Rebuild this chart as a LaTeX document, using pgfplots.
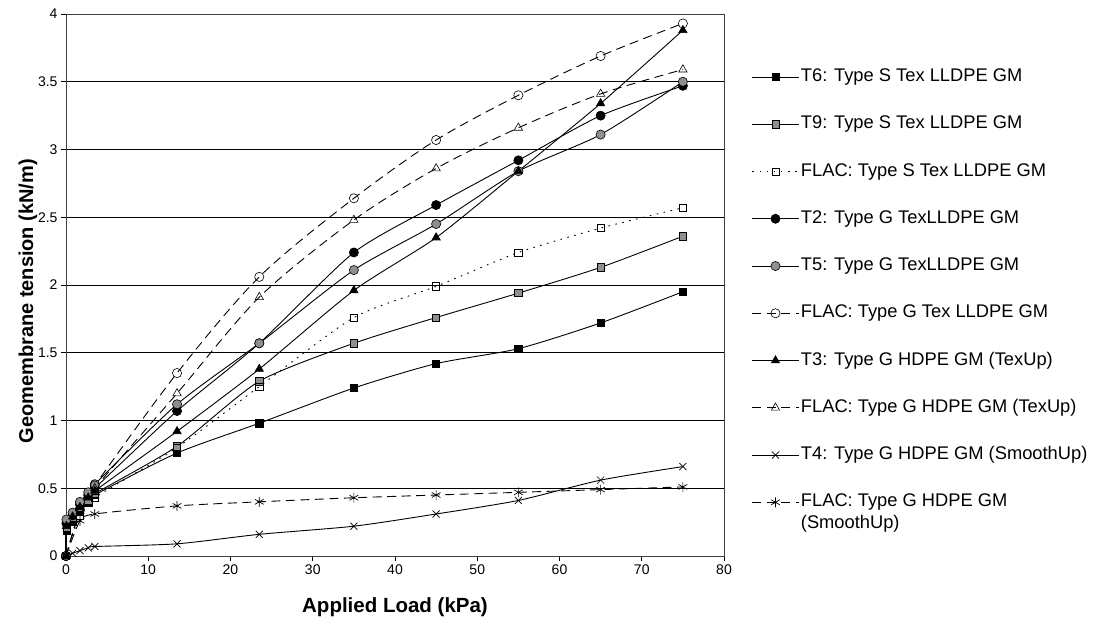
\documentclass[border=0pt]{standalone}
\usepackage{pgfplots}
\pgfplotsset{compat=1.18}
\usepackage{fontspec}
\setmainfont{Liberation Sans}
\definecolor{mgray}{gray}{0.56}

\begin{document}
\begin{tikzpicture}[x=1pt,y=1pt]
\useasboundingbox (-66,-66) rectangle (1028,556);
\begin{axis}[
  at={(0,0)}, anchor=south west,
  scale only axis, width=658pt, height=542pt,
  xmin=0, xmax=80, ymin=0, ymax=4,
  xtick={0,10,20,30,40,50,60,70,80},
  ytick={0,0.5,1,1.5,2,2.5,3,3.5,4},
  xtick pos=bottom, ytick pos=left, tick align=outside,
  major tick length=5pt,
  tick style={black, line width=0.8pt},
  axis line style={black!75, line width=0.9pt},
  ymajorgrids, grid style={black, line width=0.9pt},
  tick label style={font=\fontsize{14}{16}\selectfont},
  /pgf/number format/assume math mode=true,
  clip=false,
  xlabel={Applied Load (kPa)},
  ylabel={Geomembrane tension (kN/m)},
  every axis x label/.style={at={(axis description cs:0.5,-0.094)}, anchor=center, font=\fontsize{20.5}{23}\selectfont\bfseries},
  every axis y label/.style={at={(axis description cs:-0.058,0.47)}, anchor=center, rotate=90, font=\fontsize{20}{23}\selectfont\bfseries},
  legend style={draw=none, fill=none, inner sep=0pt, outer sep=0pt,
    at={(axis description cs:1.0426,0.8994)}, anchor=north west,
    font=\fontsize{18.3}{22}\selectfont, row sep=30.25pt, column sep=2pt,
    nodes={inner sep=0pt, text height=13pt, text depth=4pt}},
  legend cell align=left,
  legend image code/.code={\draw[mark repeat=2,mark phase=2] plot coordinates {(0pt,0pt) (23pt,0pt) (46pt,0pt)};},
  every axis plot/.append style={line width=0.9pt},
]
% T6
\addplot[black, smooth, tension=0.4, mark=square*, mark size=3.6pt, mark options={solid, fill=black, line width=0.6pt}]
coordinates {(0,0) (0.05,0.19) (0.8,0.25) (1.7,0.33) (2.7,0.39) (3.5,0.45) (13.5,0.76) (23.5,0.98) (35,1.24) (45,1.42) (55,1.53) (65,1.72) (75,1.95)};
\addlegendentry{T6: Type S Tex LLDPE GM}
% T9
\addplot[black, smooth, tension=0.4, mark=square*, mark size=3.6pt, mark options={solid, fill=mgray, line width=0.6pt}]
coordinates {(0,0) (0.05,0.21) (0.8,0.28) (1.7,0.35) (2.7,0.41) (3.5,0.46) (13.5,0.81) (23.5,1.29) (35,1.57) (45,1.76) (55,1.94) (65,2.13) (75,2.36)};
\addlegendentry{T9: Type S Tex LLDPE GM}
% FLAC S
\addplot[black, smooth, tension=0.4, dash pattern=on 1.6pt off 5.5pt, mark=square, mark size=3.6pt, mark options={solid, fill=white, line width=0.6pt}]
coordinates {(0,0) (1.7,0.30) (3.5,0.43) (13.5,0.80) (23.5,1.25) (35,1.76) (45,1.99) (55,2.24) (65,2.42) (75,2.57)};
\addlegendentry{FLAC: Type S Tex LLDPE GM}
% T2
\addplot[black, smooth, tension=0.4, mark=*, mark size=4.6pt, mark options={solid, fill=black, line width=0.6pt}]
coordinates {(0,0) (0.05,0.24) (0.8,0.30) (1.7,0.38) (2.7,0.45) (3.5,0.50) (13.5,1.07) (23.5,1.57) (35,2.24) (45,2.59) (55,2.92) (65,3.25) (75,3.47)};
\addlegendentry{T2: Type G TexLLDPE GM}
% T5
\addplot[black, smooth, tension=0.4, mark=*, mark size=4.6pt, mark options={solid, fill=mgray, line width=0.6pt}]
coordinates {(0,0) (0.05,0.27) (0.8,0.32) (1.7,0.40) (2.7,0.47) (3.5,0.53) (13.5,1.12) (23.5,1.57) (35,2.11) (45,2.45) (55,2.84) (65,3.11) (75,3.50)};
\addlegendentry{T5: Type G TexLLDPE GM}
% FLAC G Tex LLDPE
\addplot[black, smooth, tension=0.5, dash pattern=on 9pt off 5.5pt, mark=o, mark size=4.6pt, mark options={solid, line width=0.6pt}]
coordinates {(0,0) (1.7,0.34) (3.5,0.52) (13.5,1.35) (23.5,2.06) (35,2.64) (45,3.07) (55,3.40) (65,3.69) (75,3.93)};
\addlegendentry{FLAC: Type G Tex LLDPE GM}
% T3
\addplot[black, smooth, tension=0.4, mark=triangle*, mark size=4.8pt, mark options={solid, fill=black, line width=0.6pt}]
coordinates {(0,0) (0.05,0.22) (0.8,0.29) (1.7,0.36) (2.7,0.43) (3.5,0.48) (13.5,0.92) (23.5,1.38) (35,1.96) (45,2.35) (55,2.84) (65,3.34) (75,3.88)};
\addlegendentry{T3: Type G HDPE GM (TexUp)}
% FLAC G HDPE TexUp
\addplot[black, smooth, tension=0.5, dash pattern=on 9pt off 5.5pt, mark=triangle, mark size=4.8pt, mark options={solid, line width=0.6pt}]
coordinates {(0,0) (1.7,0.33) (3.5,0.50) (13.5,1.20) (23.5,1.91) (35,2.48) (45,2.86) (55,3.16) (65,3.41) (75,3.59)};
\addlegendentry{FLAC: Type G HDPE GM (TexUp)}
% T4
\addplot[black, smooth, tension=0.4, mark=x, mark size=5pt, mark options={solid, line width=0.7pt}]
coordinates {(0,0) (0.8,0.02) (1.7,0.04) (2.7,0.06) (3.5,0.07) (13.5,0.09) (23.5,0.16) (35,0.22) (45,0.31) (55,0.41) (65,0.56) (75,0.66)};
\addlegendentry{T4: Type G HDPE GM (SmoothUp)}
% FLAC SmoothUp
\addplot[black, smooth, tension=0.4, dash pattern=on 9pt off 5.5pt, mark=asterisk, mark size=5pt, mark options={solid, line width=0.7pt}]
coordinates {(0,0) (1.7,0.26) (3.5,0.31) (13.5,0.37) (23.5,0.40) (35,0.43) (45,0.45) (55,0.47) (65,0.49) (75,0.51)};
\addlegendentry{\begin{tabular}[t]{@{}l@{}}FLAC: Type G HDPE GM\\(SmoothUp)\end{tabular}}
\end{axis}
\end{tikzpicture}
\end{document}
